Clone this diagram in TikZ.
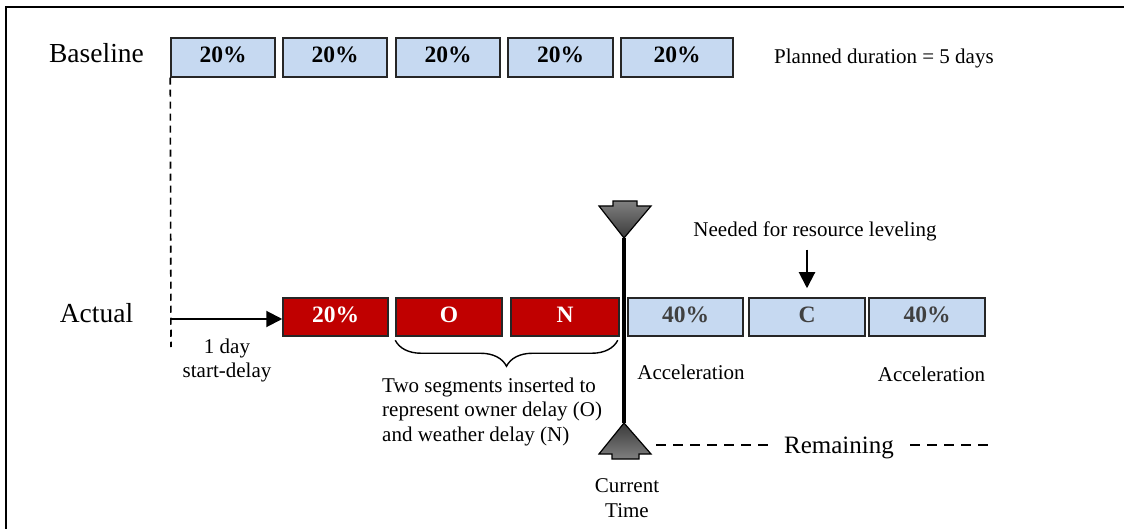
\documentclass[tikz,border=0pt]{standalone}
\usepackage{fontspec}
\setmainfont{Liberation Serif}
\usetikzlibrary{arrows.meta,decorations.pathreplacing}
\definecolor{boxblue}{HTML}{C6D9F1}
\definecolor{boxred}{HTML}{C00000}
\definecolor{boxline}{HTML}{262626}
\definecolor{darktext}{HTML}{404040}
\definecolor{mlight}{HTML}{808080}
\definecolor{mdark}{HTML}{3A3A3A}
\begin{document}
\begin{tikzpicture}[x=1pt,y=-1pt,
  bar/.style={draw=boxline, line width=1.5pt, inner sep=0pt, minimum height=39pt,
    text height=16pt, text depth=6pt, font=\bfseries\fontsize{23.5}{26}\selectfont},
  planbox/.style={bar, fill=boxblue, text=black},
  redbox/.style={bar, fill=boxred, text=white},
  bluebox/.style={bar, fill=boxblue, text=darktext},
  lbl/.style={font=\fontsize{21}{24.5}\selectfont, inner sep=0pt},
  biglbl/.style={font=\fontsize{27.5}{30}\selectfont, inner sep=0pt},
  arr/.style={-{Triangle[length=16pt,width=16pt]}, line width=2pt},
  dashv/.style={dash pattern=on 7pt off 5pt, line width=1.6pt},
  dashr/.style={dash pattern=on 10pt off 7pt, line width=2pt},
  marker/.style={draw=black, line width=1.2pt}
]
\useasboundingbox (0,0) rectangle (1124,529);
% frame
\draw[line width=2.5pt] (6,529) -- (6,7) -- (1124,7);

% baseline row
\node[biglbl, anchor=base] (baseline) at (96.5,63) {Baseline};
\node[planbox, minimum width=104pt] (b1) at (223,57.5) {20\%};
\node[planbox, minimum width=104pt] (b2) at (335,57.5) {20\%};
\node[planbox, minimum width=104pt] (b3) at (448,57.5) {20\%};
\node[planbox, minimum width=105pt] (b4) at (560.5,57.5) {20\%};
\node[planbox, minimum width=112pt] (b5) at (677,57.5) {20\%};
\node[lbl, anchor=base west] (planned) at (774,64) {Planned duration = 5 days};

% actual row
\node[biglbl, anchor=base] (actual) at (96.5,322) {Actual};
\node[redbox, minimum width=105pt, minimum height=38pt] (a1) at (335.5,317) {20\%};
\node[redbox, minimum width=106pt, minimum height=38pt] (a2) at (449,317) {O};
\node[redbox, minimum width=108pt, minimum height=38pt] (a3) at (565,317) {N};
\node[bluebox, minimum width=115pt, minimum height=38pt] (a4) at (685.5,317) {40\%};
\node[bluebox, minimum width=116pt, minimum height=38pt] (a5) at (807,317) {C};
\node[bluebox, minimum width=116pt, minimum height=38pt] (a6) at (927,317) {40\%};

% start delay
\coordinate (dend) at (171,347);
\coordinate (dl) at (171,319);
\draw[dashv] (b1.south west) -- (dend);
\draw[arr] (dl) -- (dl -| a1.west);
\node[lbl, anchor=north, align=center] (delay) at (227,338.7) {1 day\\start-delay};

% brace and explanation
\draw[decorate, decoration={brace, mirror, amplitude=26pt}, line width=1.4pt]
  ([yshift=-3.5pt]a2.south west) -- ([yshift=-3.5pt,xshift=-2pt]a3.south east);
\node[lbl, anchor=north west, align=left] (twoseg) at (382,377.7)
  {Two segments inserted to\\represent owner delay (O)\\and weather delay (N)};

% needed
\node[lbl, anchor=base] (needed) at (815,237) {Needed for resource leveling};
\draw[arr, shorten <=8pt, shorten >=9pt] (needed.south -| a5.north) -- (a5.north);

% acceleration labels
\node[lbl, anchor=base] (acc1) at (691,379.5) {Acceleration};
\node[lbl, anchor=base] (acc2) at (931.5,381.5) {Acceleration};

% current time
\coordinate (ttop) at (624,238);
\coordinate (tbot) at (624,423);
\draw[line width=4pt] (ttop) -- (tbot);
\draw[marker, top color=mlight, bottom color=mdark]
  (613,201) -- (637,201) -- (637,206) -- (651,206) -- (ttop) -- (599,206) -- (613,206) -- cycle;
\draw[marker, top color=mdark, bottom color=mlight]
  (612,459) -- (639,459) -- (639,454) -- (651,454) -- (tbot) -- (599,454) -- (612,454) -- cycle;
\node[lbl, anchor=north, align=center] (ctime) at (627,478.8) {Current\\Time};

% remaining
\node[font=\fontsize{25}{28}\selectfont, inner sep=0pt, anchor=base] (rem) at (839,453.5) {Remaining};
\coordinate (rs) at (656,445);
\coordinate (re) at (988,445);
\draw[dashr, shorten >=14pt] (rs) -- (rs -| rem.west);
\draw[dashr, shorten <=16pt] (re -| rem.east) -- (re);
\end{tikzpicture}
\end{document}
